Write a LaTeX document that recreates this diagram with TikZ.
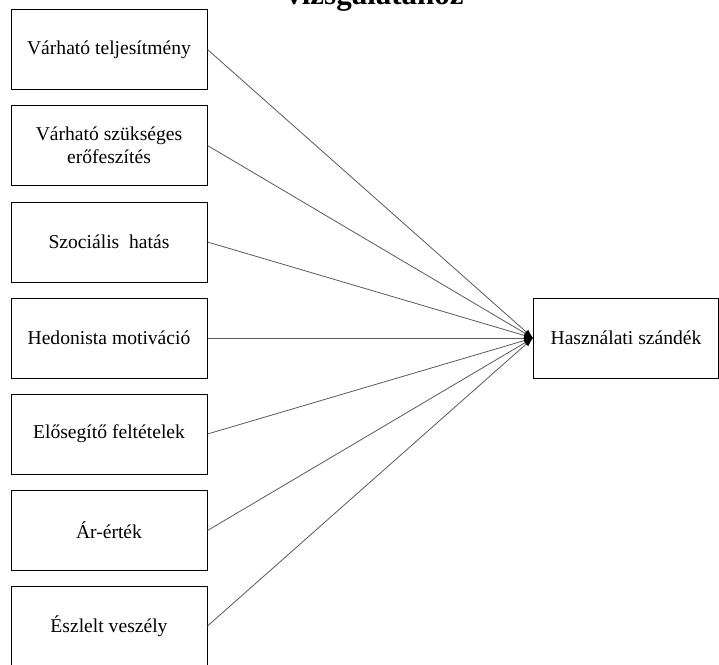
\documentclass[tikz,border=0pt]{standalone}
\usepackage{fontspec}
\setmainfont{Liberation Serif}
\usetikzlibrary{arrows.meta}
\begin{document}
\begin{tikzpicture}[x=1pt,y=-1pt,
  factor/.style={draw=black,line width=1pt,minimum width=196pt,minimum height=80pt,inner sep=2pt,align=center,font=\fontsize{19.6}{23.5}\selectfont,anchor=north west},
  conn/.style={draw=black!65,line width=0.8pt,-{Latex[length=9pt,width=6pt,black]}}]
\useasboundingbox (0,0) rectangle (719,664);
\clip (0,0) rectangle (719,664);
\node[font=\bfseries\fontsize{31}{36}\selectfont,anchor=base,inner sep=0pt] (title) at (375,4) {vizsgálatához};
\node[factor] (f1) at (10.5,9) {Várható teljesítmény};
\node[factor] (f2) at (10.5,105) {Várható szükséges\\erőfeszítés};
\node[factor] (f3) at (10.5,201.5) {Szociális\ \ hatás};
\node[factor] (f4) at (10.5,297.5) {Hedonista motiváció};
\node[factor] (f5) at (10.5,393.5) {Elősegítő feltételek};
\node[factor] (f6) at (10.5,490) {Ár-érték};
\node[factor] (f7) at (10.5,585.5) {Észlelt veszély};
\node[factor,minimum width=185pt] (t) at (533,297.5) {Használati szándék};
\foreach \i in {1,...,7}{\draw[conn] (f\i.east) -- (t.west);}
\end{tikzpicture}
\end{document}
